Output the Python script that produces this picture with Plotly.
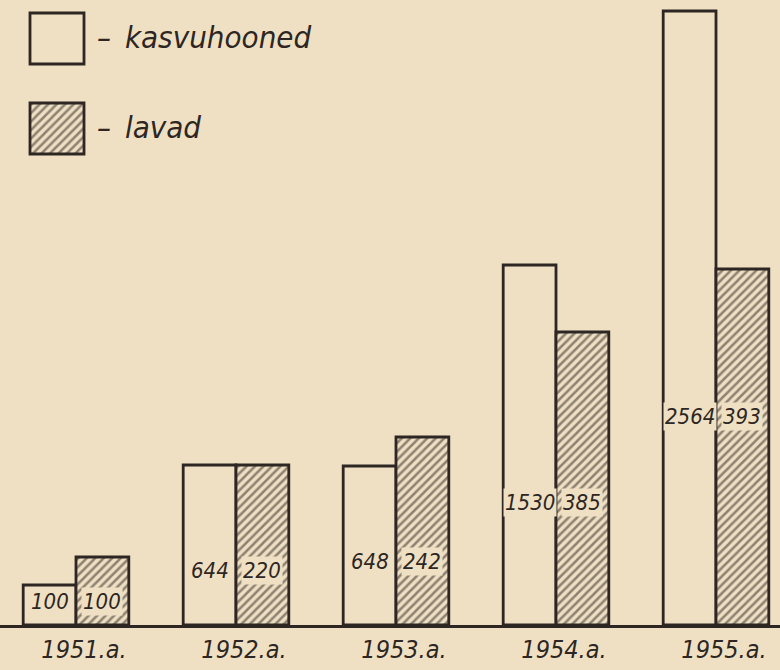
import plotly.graph_objects as go

# ---- data ----
years = [1951, 1952, 1953, 1954, 1955]
year_labels = ["1951.a.", "1952.a.", "1953.a.", "1954.a.", "1955.a."]
# index values printed in the bars
kasvuhooned_index = [100, 644, 648, 1530, 2564]
lavad_index = [100, 220, 242, 385, 393]
# bar heights as drawn (relative units, the original has no value axis)
kasvuhooned_height = [40, 160, 159, 360, 614]
lavad_height = [68, 160, 188, 293, 356]
series_names = ["kasvuhooned", "lavad"]

# ---- style ----
PAPER = "#efe0c4"
INK = "#2d2622"
FONT = "DejaVu Sans Condensed, Liberation Sans Narrow, sans-serif"
W, H = 780, 670
MB = 45
PLOT_H = H - MB
BARGAP = 0.34
HALF = (1 - BARGAP) / 4  # centre offset of each bar in a pair

hatch = dict(shape="/", fgcolor=INK, bgcolor=PAPER, size=6, solidity=0.42)
outline = dict(color=INK, width=2.8)

fig = go.Figure()
fig.add_bar(x=years, y=kasvuhooned_height, name=series_names[0],
            marker=dict(color=PAPER, line=outline), showlegend=False,
            hoverinfo="skip")
fig.add_bar(x=years, y=lavad_height, name=series_names[1],
            marker=dict(color=PAPER, line=outline, pattern=hatch),
            showlegend=False, hoverinfo="skip")

# legend swatches drawn with the same bar styling on small helper axes
fig.add_bar(x=[0], y=[1], width=1, xaxis="x2", yaxis="y2", cliponaxis=False,
            marker=dict(color=PAPER, line=outline), showlegend=False, hoverinfo="skip")
fig.add_bar(x=[0], y=[1], width=1, xaxis="x3", yaxis="y3", cliponaxis=False,
            marker=dict(color=PAPER, line=outline, pattern=hatch),
            showlegend=False, hoverinfo="skip")

annotations = []
label_font = dict(family=FONT, size=22, color=INK, style="italic")
for i, yr in enumerate(years):
    ylab = 0.34 * max(kasvuhooned_height[i], lavad_height[i])
    for off, val in ((-HALF, kasvuhooned_index[i]), (HALF, lavad_index[i])):
        annotations.append(dict(x=yr + off, y=ylab, xref="x", yref="y",
                                text=str(val), showarrow=False,
                                bgcolor=PAPER, borderpad=1, font=label_font))

legend_font = dict(family=FONT, size=31, color=INK, style="italic")
annotations.append(dict(x=95 / W, y=(PLOT_H - 37) / PLOT_H, xref="paper", yref="paper",
                        xanchor="left", yanchor="middle", showarrow=False,
                        text="–\u2002" + series_names[0], font=legend_font))
annotations.append(dict(x=95 / W, y=(PLOT_H - 127) / PLOT_H, xref="paper", yref="paper",
                        xanchor="left", yanchor="middle", showarrow=False,
                        text="–\u2002" + series_names[1], font=legend_font))

# swatch boxes: 54 px wide, 51 px tall, helper axes padded so outlines are not clipped
PAD = 3
SW, SH = 54, 51
xr = [-0.5 - PAD / SW, 0.5 + PAD / SW]
yr_ = [-PAD / SH, 1 + PAD / SH]


def ydom(top_px):
    return [(PLOT_H - (top_px + SH + PAD)) / PLOT_H, (PLOT_H - (top_px - PAD)) / PLOT_H]


fig.update_layout(
    width=W, height=H,
    margin=dict(l=0, r=0, t=0, b=MB),
    paper_bgcolor=PAPER, plot_bgcolor=PAPER,
    barmode="group", bargap=BARGAP, bargroupgap=0,
    annotations=annotations,
    xaxis=dict(range=[1950.525, 1955.4], tickvals=years, ticktext=year_labels,
               tickfont=dict(family=FONT, size=25, color=INK, style="italic"),
               ticklabelshift=8,
               showline=True, linewidth=3, linecolor=INK, showgrid=False,
               zeroline=False, ticks="", fixedrange=True),
    yaxis=dict(range=[0, PLOT_H], visible=False, fixedrange=True),
    xaxis2=dict(domain=[(30 - PAD) / W, (30 + SW + PAD) / W], range=xr, visible=False, anchor="y2"),
    yaxis2=dict(domain=ydom(13), range=yr_, visible=False, anchor="x2"),
    xaxis3=dict(domain=[(30 - PAD) / W, (30 + SW + PAD) / W], range=xr, visible=False, anchor="y3"),
    yaxis3=dict(domain=ydom(103), range=yr_, visible=False, anchor="x3"),
)

fig.write_html("out.html", config={"displayModeBar": False},
               post_script="document.body.style.margin='0';"
                           "document.body.style.background='" + PAPER + "';")
